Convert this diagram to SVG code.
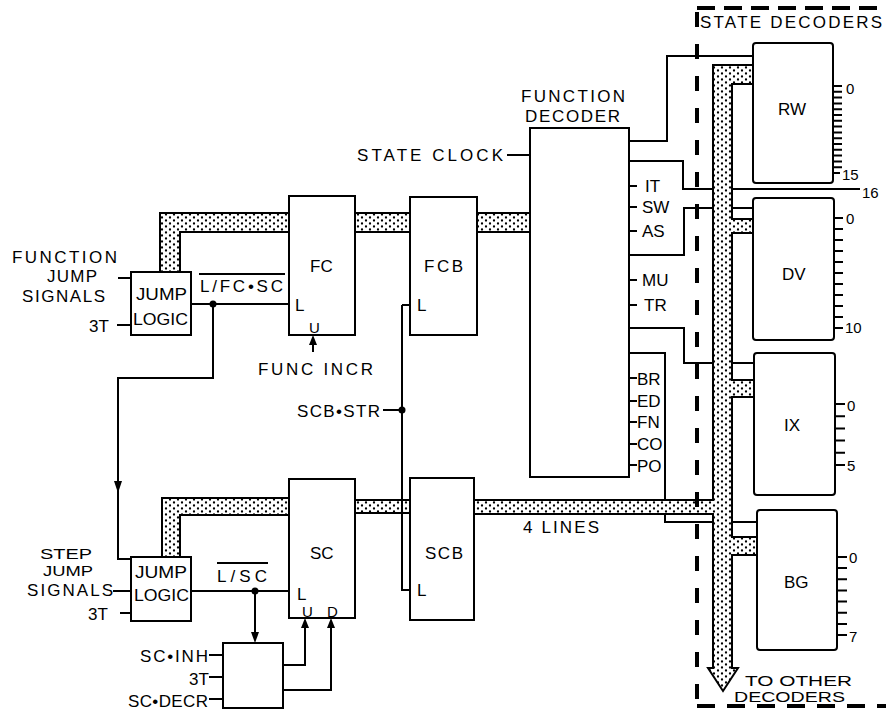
<svg xmlns="http://www.w3.org/2000/svg" width="886" height="712" viewBox="0 0 886 712">
<defs>
<pattern id="dots" width="8" height="6" patternUnits="userSpaceOnUse">
<rect width="8" height="6" fill="#fff"/>
<circle cx="2" cy="1.5" r="1.15" fill="#000"/>
<circle cx="6" cy="4.5" r="1.15" fill="#000"/>
</pattern>
<style>
.ln{fill:none;stroke:#000;stroke-width:2}
.bx{fill:#fff;stroke:#000;stroke-width:2}
.sd{fill:#fff;stroke:#000;stroke-width:2}
.bus{fill:url(#dots);stroke:#000;stroke-width:2;stroke-linejoin:miter}
.ah{fill:#000}
.dash{fill:none;stroke:#000;stroke-width:4}
text{font-family:"Liberation Sans","DejaVu Sans",Arial,sans-serif;font-size:17px;fill:#000}
.sm{font-size:15px}
.xs{font-size:14px}
</style>
</defs>
<rect width="886" height="712" fill="#fff"/>

<g id="connectors">
<path class="ln" d="M629,161 H683 V189 H860"/>
<path class="ln" d="M629,255 H684 V208 H753"/>
<path class="ln" d="M629,328 H684 V363 H754"/>
<path class="ln" d="M629,353 H665 V522 H757"/>
<path class="ln" d="M629,141 H667 V56 H753"/>
<path class="bus" d="M160,272 V213 H292 V232 H180 V272 Z"/>
<rect class="bus" x="353" y="213" width="59" height="19"/>
<rect class="bus" x="475" y="213" width="57" height="19"/>
<path class="bus" d="M162,557 V498 H292 V515 H180 V557 Z"/>
<rect class="bus" x="353" y="500" width="59" height="13"/>
<path class="bus" d="M753,65 H713 V500 H472 V514 H713 V668 H708 L723,691 L738,668 H732 V555 H758 V537 H732 V397 H755 V380 H732 V233 H754 V219 H732 V84 H753 Z"/>
<path class="ln" d="M118,278 H131"/>
<path class="ln" d="M117,325 H131"/>
<path class="ln" d="M191,304 H289"/>
<path class="ln" d="M213,304 V378 H118 V559 H131"/>
<path class="ln" d="M313,352 V340"/>
<path class="ln" d="M402,305 H410 M402,305 V590 H410"/>
<path class="ln" d="M383,410 H402"/>
<path class="ln" d="M507,155 H530"/>
<path class="ln" d="M629,186 H637 M629,207 H637 M629,231 H637 M629,280 H637 M629,305 H637 M629,378 H637 M629,401 H637 M629,422 H637 M629,444 H637 M629,465 H637"/>
<path class="ln" d="M113,591 H131 M120,613 H131"/>
<path class="ln" d="M191,591 H289"/>
<path class="ln" d="M255,591 V636"/>
<path class="ln" d="M283,665 H305 V625"/>
<path class="ln" d="M283,690 H331 V625"/>
<path class="ln" d="M209,655 H223 M209,677 H223 M209,699 H223"/>
<polygon class="ah" points="114,481 122,481 118,493"/>
<polygon class="ah" points="309,345 317,345 313,335"/>
<polygon class="ah" points="251,632 259,632 255,643"/>
<polygon class="ah" points="301,628 309,628 305,618"/>
<polygon class="ah" points="327,628 335,628 331,618"/>
<circle cx="213" cy="304" r="3.5"/>
<circle cx="255" cy="591" r="3.5"/>
<circle cx="402" cy="410" r="3.5"/>
</g>

<g id="function-jump-logic">
<rect class="bx" x="131" y="272" width="60" height="63"/>
<text x="136" y="300" textLength="51" lengthAdjust="spacingAndGlyphs">JUMP</text>
<text x="133" y="325" textLength="55" lengthAdjust="spacingAndGlyphs">LOGIC</text>
<text x="12" y="263" textLength="105" lengthAdjust="spacing">FUNCTION</text>
<text x="47" y="282" textLength="50" lengthAdjust="spacing">JUMP</text>
<text x="22" y="302" textLength="83" lengthAdjust="spacing">SIGNALS</text>
<text x="89" y="332">3T</text>
<text x="200" y="292" textLength="83" lengthAdjust="spacing">L/FC•SC</text>
<line class="ln" x1="199" y1="274" x2="285" y2="274"/>
</g>

<g id="fc">
<rect class="bx" x="289" y="196" width="66" height="139"/>
<text x="310" y="272">FC</text>
<text x="295" y="311">L</text>
<text x="309" y="333" class="sm">U</text>
<text x="258" y="375" textLength="115" lengthAdjust="spacing">FUNC INCR</text>
</g>

<g id="fcb">
<rect class="bx" x="410" y="197" width="67" height="138"/>
<text x="424" y="272" textLength="39" lengthAdjust="spacing">FCB</text>
<text x="417" y="311">L</text>
</g>

<g id="scb-str">
<text x="297" y="417" textLength="83" lengthAdjust="spacing">SCB•STR</text>
</g>

<g id="function-decoder">
<rect class="bx" x="530" y="128" width="99" height="349"/>
<text x="521" y="102" textLength="104" lengthAdjust="spacing">FUNCTION</text>
<text x="525" y="122" textLength="95" lengthAdjust="spacing">DECODER</text>
<text x="357" y="161" textLength="146" lengthAdjust="spacing">STATE CLOCK</text>
<text x="645" y="192">IT</text>
<text x="642" y="213">SW</text>
<text x="642" y="237">AS</text>
<text x="642" y="286">MU</text>
<text x="644" y="311">TR</text>
<text x="637" y="385">BR</text>
<text x="637" y="407">ED</text>
<text x="637" y="428">FN</text>
<text x="637" y="450">CO</text>
<text x="637" y="472">PO</text>
</g>

<g id="step-jump-logic">
<rect class="bx" x="131" y="557" width="60" height="64"/>
<text x="135" y="578" textLength="52" lengthAdjust="spacingAndGlyphs">JUMP</text>
<text x="134" y="601" textLength="55" lengthAdjust="spacingAndGlyphs">LOGIC</text>
<text x="40" y="559" class="xs" textLength="52" lengthAdjust="spacingAndGlyphs">STEP</text>
<text x="43" y="576" class="xs" textLength="50" lengthAdjust="spacingAndGlyphs">JUMP</text>
<text x="27" y="596" textLength="86" lengthAdjust="spacing">SIGNALS</text>
<text x="88" y="620">3T</text>
<text x="217" y="582" textLength="50" lengthAdjust="spacing">L/SC</text>
<line class="ln" x1="217" y1="563" x2="268" y2="563"/>
</g>

<g id="sc">
<rect class="bx" x="289" y="479" width="66" height="139"/>
<text x="310" y="559">SC</text>
<text x="297" y="600">L</text>
<text x="302" y="617" class="sm">U</text>
<text x="327" y="617" class="sm">D</text>
</g>

<g id="scb">
<rect class="bx" x="410" y="478" width="64" height="142"/>
<text x="425" y="559" textLength="38" lengthAdjust="spacing">SCB</text>
<text x="417" y="596">L</text>
<text x="523" y="533" textLength="76" lengthAdjust="spacing">4 LINES</text>
</g>

<g id="sc-control">
<rect class="bx" x="223" y="643" width="60" height="65"/>
<text x="140" y="662" textLength="68" lengthAdjust="spacing">SC•INH</text>
<text x="189" y="685">3T</text>
<text x="128" y="707" textLength="80" lengthAdjust="spacing">SC•DECR</text>
</g>

<g id="state-decoders">
<path class="dash" d="M697,12 V712" stroke-dasharray="15 17"/>
<path class="dash" d="M697,8 H886" stroke-width="3.5" stroke-dasharray="18 9"/>
<path class="dash" d="M697,706 H886" stroke-width="3.5" stroke-dasharray="18 12"/>
<text x="700" y="28" textLength="182" lengthAdjust="spacing">STATE DECODERS</text>
<text x="745" y="686" class="xs" textLength="107" lengthAdjust="spacingAndGlyphs">TO OTHER</text>
<text x="734" y="702" class="xs" textLength="111" lengthAdjust="spacingAndGlyphs">DECODERS</text>
</g>

<g id="rw">
<rect class="sd" x="753" y="43" width="80" height="140" rx="3"/>
<text x="778" y="115">RW</text>
<path class="ln" stroke-width="1.8" d="M833,86 H842 M833,91.8 H842 M833,97.6 H842 M833,103.4 H842 M833,109.2 H842 M833,115 H842 M833,120.8 H842 M833,126.6 H842 M833,132.4 H842 M833,138.2 H842 M833,144 H842 M833,149.8 H842 M833,155.6 H842 M833,161.4 H842 M833,167.2 H842 M833,173 H840"/>
<text x="846" y="94" class="sm">0</text>
<text x="842" y="180" class="sm">15</text>
<text x="862" y="198" class="sm">16</text>
</g>

<g id="dv">
<rect class="sd" x="753" y="198" width="81" height="142" rx="3"/>
<text x="782" y="280">DV</text>
<path class="ln" d="M834,218 H843 M834,229 H843 M834,240 H843 M834,251 H843 M834,262 H843 M834,273 H843 M834,284 H843 M834,295 H843 M834,306 H843 M834,317 H843 M834,328 H843"/>
<text x="846" y="224" class="sm">0</text>
<text x="845" y="333" class="sm">10</text>
</g>

<g id="ix">
<rect class="sd" x="754" y="353" width="81" height="142" rx="3"/>
<text x="784" y="431">IX</text>
<path class="ln" d="M835,404 H845 M835,416.2 H845 M835,428.4 H845 M835,440.6 H845 M835,452.8 H845 M835,465 H845"/>
<text x="847" y="411" class="sm">0</text>
<text x="847" y="471" class="sm">5</text>
</g>

<g id="bg">
<rect class="sd" x="757" y="510" width="80" height="140" rx="3"/>
<text x="784" y="588">BG</text>
<path class="ln" d="M837,557 H847 M837,568.1 H847 M837,579.3 H847 M837,590.4 H847 M837,601.6 H847 M837,612.7 H847 M837,623.9 H847 M837,635 H847"/>
<text x="849" y="563" class="sm">0</text>
<text x="849" y="642" class="sm">7</text>
</g>
</svg>
